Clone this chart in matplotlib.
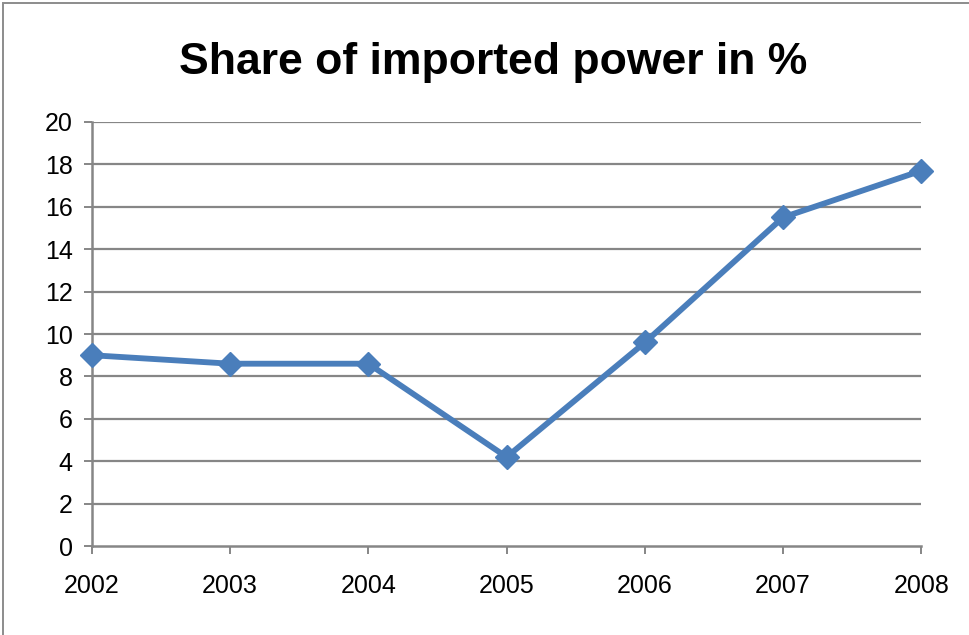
import matplotlib.pyplot as plt
from matplotlib.patches import Rectangle

years = ['2002', '2003', '2004', '2005', '2006', '2007', '2008']
share = [9.0, 8.6, 8.6, 4.2, 9.6, 15.5, 17.7]
yticks = [0, 2, 4, 6, 8, 10, 12, 14, 16, 18, 20]

plt.rcParams['font.family'] = ['Liberation Sans', 'DejaVu Sans']

fig = plt.figure(figsize=(9.7, 6.35), dpi=100)
ax = fig.add_axes([0.0948, 0.140, 0.855, 0.668])

grid_c = '#868686'
for v in yticks[1:]:
    ax.axhline(v, color=grid_c, lw=1.6, zorder=1)

x = list(range(len(years)))
ax.plot(x, share, color='#4A7EBB', lw=4.2, marker='D', markersize=12, zorder=3,
        clip_on=False)

ax.set_xlim(0, len(years) - 1)
ax.set_ylim(0, 20)
ax.set_xticks(x)
ax.set_xticklabels(years)
ax.set_yticks(yticks)

for s in ['top', 'right']:
    ax.spines[s].set_visible(False)
for s in ['left', 'bottom']:
    ax.spines[s].set_color(grid_c)
    ax.spines[s].set_linewidth(1.8)
ax.tick_params(axis='both', colors=grid_c, length=6, width=1.4, labelcolor='black',
               labelsize=18)
ax.tick_params(axis='x', pad=14)
ax.tick_params(axis='y', pad=8)

fig.text(0.508, 0.902, 'Share of imported power in %', ha='center', va='center',
         fontsize=32, fontweight='bold')

fig.patches.append(Rectangle((3 / 970, -0.1), 1.2, 1.1 - 3 / 635, transform=fig.transFigure,
                             fill=False, edgecolor='#8c8c8c', lw=1.4))

fig.savefig('out.png', dpi=100)
